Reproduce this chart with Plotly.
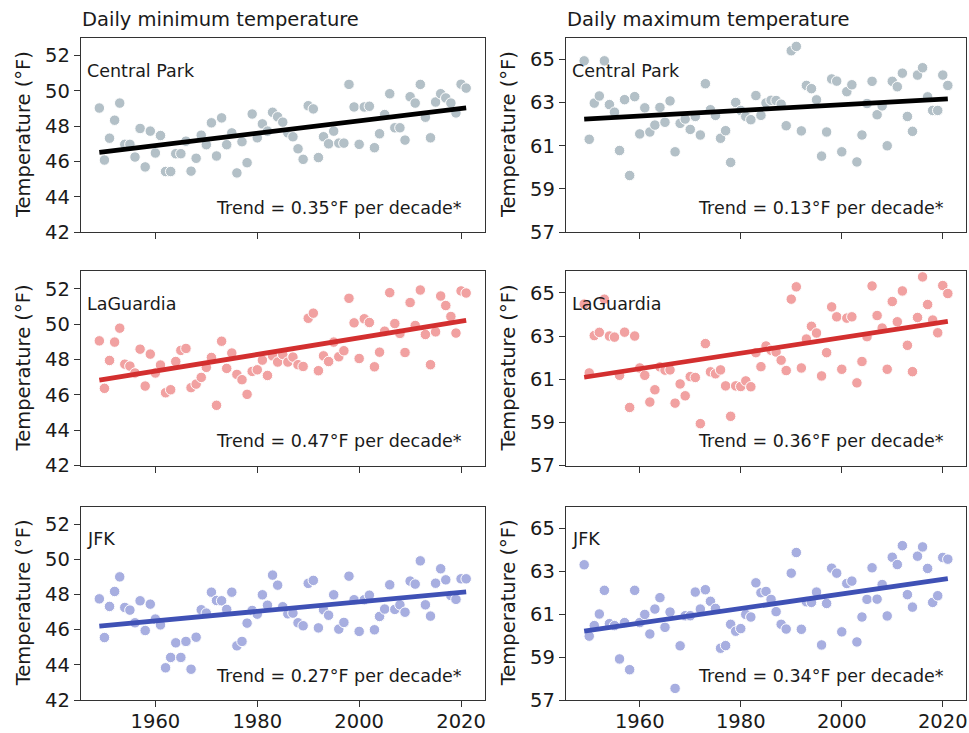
import plotly.graph_objects as go

years = list(range(1949, 2022))

cp_min = [49.03, 46.08, 47.32, 48.34, 49.31, 46.97, 46.97, 46.25, 47.87, 45.69,
          47.72, 46.48, 47.47, 45.43, 45.43, 46.44, 46.44, 47.15, 45.45, 46.18,
          47.49, 46.95, 48.19, 46.31, 48.47, 46.95, 47.62, 45.35, 47.12, 45.93,
          48.69, 47.34, 48.13, 47.72, 48.79, 48.53, 48.23, 47.62, 47.40, 46.72,
          46.12, 49.16, 48.98, 46.22, 47.40, 47.00, 47.72, 47.04, 47.04, 50.37,
          49.09, 46.97, 49.09, 49.13, 46.78, 47.57, 48.66, 49.84, 47.91, 47.91,
          47.21, 49.67, 49.31, 50.37, 48.51, 47.34, 49.37, 49.84, 49.60, 49.31,
          48.75, 50.38, 50.16]

cp_max = [64.94, 61.30, 62.98, 63.31, 64.94, 62.91, 62.56, 60.78, 63.14, 59.62,
          63.28, 61.55, 62.76, 61.64, 61.96, 62.78, 62.09, 63.08, 60.72, 62.04,
          62.24, 61.76, 62.36, 61.50, 63.88, 62.67, 62.41, 61.35, 61.70, 60.23,
          63.01, 62.64, 62.36, 62.21, 63.33, 62.41, 62.99, 63.11, 63.10, 62.93,
          61.93, 65.41, 65.61, 61.69, 63.80, 63.65, 63.13, 60.52, 61.64, 64.10,
          64.00, 60.72, 63.51, 63.83, 60.25, 61.50, 62.96, 63.99, 62.44, 62.85,
          61.00, 63.99, 63.74, 64.37, 62.36, 61.67, 64.28, 64.62, 63.27, 62.64,
          62.64, 64.28, 63.80]

lga_min = [49.06, 46.37, 47.95, 48.99, 49.78, 47.74, 47.63, 47.24, 48.59, 46.50,
           48.31, 47.24, 47.69, 46.12, 46.29, 47.89, 48.52, 48.63, 46.41, 46.61,
           46.99, 47.56, 48.12, 45.41, 49.04, 47.50, 48.37, 47.16, 46.86, 46.03,
           47.33, 47.42, 47.97, 47.10, 48.21, 47.86, 48.29, 47.86, 48.14, 47.71,
           47.61, 50.34, 50.63, 47.37, 48.21, 47.89, 48.99, 48.16, 48.50, 51.47,
           50.08, 48.06, 50.31, 50.10, 47.59, 48.42, 49.61, 51.79, 50.04, 49.48,
           48.40, 51.23, 49.93, 51.94, 49.42, 47.71, 49.57, 51.60, 51.06, 50.44,
           49.50, 51.89, 51.77]

lga_max = [64.48, 61.29, 63.02, 63.17, 64.71, 63.00, 62.95, 61.18, 63.18, 59.69,
           63.00, 61.52, 61.18, 59.94, 60.51, 61.57, 61.42, 61.43, 59.89, 60.78,
           60.23, 61.12, 61.08, 58.94, 62.65, 61.34, 61.25, 61.43, 60.69, 59.28,
           60.69, 60.66, 60.92, 60.65, 62.23, 61.58, 62.54, 62.34, 62.26, 61.88,
           61.40, 64.71, 65.28, 61.52, 62.86, 63.45, 63.14, 61.15, 62.23, 64.35,
           63.89, 61.46, 63.83, 63.89, 60.83, 61.82, 62.97, 65.32, 63.95, 63.37,
           61.46, 64.60, 63.66, 65.09, 62.57, 61.35, 63.86, 65.74, 64.46, 63.74,
           63.15, 65.34, 64.97]

jfk_min = [47.75, 45.55, 47.32, 48.17, 49.00, 47.26, 47.11, 46.39, 47.64, 45.95,
           47.45, 46.60, 46.27, 43.83, 44.42, 45.25, 44.42, 45.33, 43.75, 45.57,
           47.13, 46.94, 48.13, 47.66, 47.64, 47.15, 48.13, 45.08, 45.33, 46.37,
           47.09, 46.88, 47.98, 47.39, 49.10, 48.53, 47.30, 46.90, 46.94, 46.39,
           46.22, 48.63, 48.80, 46.10, 47.13, 46.82, 47.98, 46.03, 46.41, 49.04,
           47.70, 45.90, 47.70, 47.96, 45.99, 46.75, 47.17, 48.55, 47.15, 47.41,
           46.99, 48.76, 48.59, 49.91, 47.41, 46.77, 48.64, 49.46, 48.83, 47.94,
           47.72, 48.89, 48.89]

jfk_max = [63.29, 59.97, 60.46, 61.00, 62.10, 60.55, 60.46, 58.91, 60.60, 58.41,
           62.10, 60.60, 60.98, 60.07, 61.23, 61.76, 60.38, 61.09, 57.54, 59.52,
           60.92, 60.92, 62.02, 61.23, 62.13, 61.59, 61.26, 59.41, 59.53, 60.52,
           60.20, 60.32, 60.98, 60.86, 62.45, 61.99, 62.05, 61.68, 61.11, 60.52,
           60.30, 62.90, 63.86, 60.29, 61.57, 61.54, 62.02, 59.56, 61.49, 63.13,
           62.90, 60.17, 62.42, 62.53, 59.70, 60.86, 61.68, 63.15, 61.69, 62.37,
           60.91, 63.64, 63.30, 64.18, 61.90, 61.32, 63.69, 64.12, 63.12, 61.54,
           61.85, 63.63, 63.55]

stations = ["Central Park", "Central Park", "LaGuardia", "LaGuardia", "JFK", "JFK"]
series = [cp_min, cp_max, lga_min, lga_max, jfk_min, jfk_max]
trend_per_decade = [0.35, 0.13, 0.47, 0.36, 0.27, 0.34]
trend_start = [46.52, 62.24, 46.83, 61.09, 46.20, 60.20]   # fitted value at first year

col_titles = ["Daily minimum temperature", "Daily maximum temperature"]
y_title = "Temperature (°F)"
min_ticks = [42, 44, 46, 48, 50, 52]
max_ticks = [57, 59, 61, 63, 65]
x_ticks = [1960, 1980, 2000, 2020]

point_colors = ["#b3c0c7", "#b3c0c7", "#f1a1a1", "#f1a1a1", "#a7aee0", "#a7aee0"]
line_colors = ["#000000", "#000000", "#d32f2f", "#d32f2f", "#3f51b5", "#3f51b5"]

W, H = 969, 733
FONT = "DejaVu Sans"
TXT = "#1a1a1a"

col_px = [(81, 484.5), (566, 966)]
row_px = [(38, 232), (271.3, 465.5), (506.5, 700)]

fig = go.Figure()
layout = dict(
    width=W, height=H,
    margin=dict(l=0, r=0, t=0, b=0),
    paper_bgcolor="white", plot_bgcolor="white",
    showlegend=False,
    font=dict(family=FONT, size=19, color=TXT),
)

annotations = []
for i, vals in enumerate(series):
    r, c = divmod(i, 2)
    ax = "" if i == 0 else str(i + 1)
    xr = "x" + ax
    yr = "y" + ax
    fig.add_trace(go.Scatter(
        x=years, y=vals, mode="markers", xaxis=xr, yaxis=yr,
        marker=dict(size=10.5, color=point_colors[i],
                    line=dict(color="white", width=1)),
        hoverinfo="skip"))
    x0, x1 = years[0], years[-1]
    y0 = trend_start[i]
    y1 = y0 + trend_per_decade[i] * (x1 - x0) / 10.0
    fig.add_trace(go.Scatter(
        x=[x0, x1], y=[y0, y1], mode="lines", xaxis=xr, yaxis=yr,
        line=dict(color=line_colors[i], width=4.8), hoverinfo="skip"))

    cx0, cx1 = col_px[c]
    ry0, ry1 = row_px[r]
    layout["xaxis" + ax] = dict(
        domain=[cx0 / W, cx1 / W], anchor=yr, range=[1945.4, 2024.6],
        tickvals=x_ticks, ticktext=[str(t) for t in x_ticks],
        showticklabels=(r == 2), ticks="outside", ticklen=6, tickwidth=1.2,
        tickcolor="#333", showline=True, mirror=True, linecolor="#333",
        linewidth=1.3, showgrid=False, zeroline=False, ticklabelstandoff=-3,
        tickfont=dict(family=FONT, size=19.5, color=TXT), automargin=False)
    ticks = min_ticks if c == 0 else max_ticks
    yrange = [42, 53] if c == 0 else [57, 66]
    layout["yaxis" + ax] = dict(
        domain=[1 - ry1 / H, 1 - ry0 / H], anchor=xr, range=yrange,
        tickvals=ticks, ticktext=[str(t) for t in ticks],
        ticks="outside", ticklen=6, tickwidth=1.2, tickcolor="#333",
        showline=True, mirror=True, linecolor="#333", linewidth=1.3,
        showgrid=False, zeroline=False,
        tickfont=dict(family=FONT, size=19.5, color=TXT), automargin=False)

    annotations.append(dict(
        text=stations[i], xref=xr + " domain", yref=yr + " domain",
        x=0.01, y=0.83, xanchor="left", yanchor="middle", showarrow=False,
        font=dict(family=FONT, size=17.5, color=TXT)))
    annotations.append(dict(
        text="Trend = %.2f°F per decade*" % trend_per_decade[i],
        xref=xr + " domain", yref=yr + " domain",
        x=0.95, y=0.125, xanchor="right", yanchor="middle", showarrow=False,
        font=dict(family=FONT, size=17.5, color=TXT)))

    # y-axis title
    annotations.append(dict(
        text=y_title, xref="paper", yref="paper",
        x=(23 if c == 0 else 508) / W, y=1 - ((ry0 + ry1) / 2) / H,
        xanchor="center", yanchor="middle", textangle=-90, showarrow=False,
        font=dict(family=FONT, size=19.5, color=TXT)))

for c, t in enumerate(col_titles):
    annotations.append(dict(
        text=t, xref="paper", yref="paper",
        x=(col_px[c][0] - 1) / W, y=1 - 19 / H,
        xanchor="left", yanchor="middle", showarrow=False,
        font=dict(family=FONT, size=19.5, color=TXT)))

layout["annotations"] = annotations
fig.update_layout(**layout)
fig.write_html("out.html")
